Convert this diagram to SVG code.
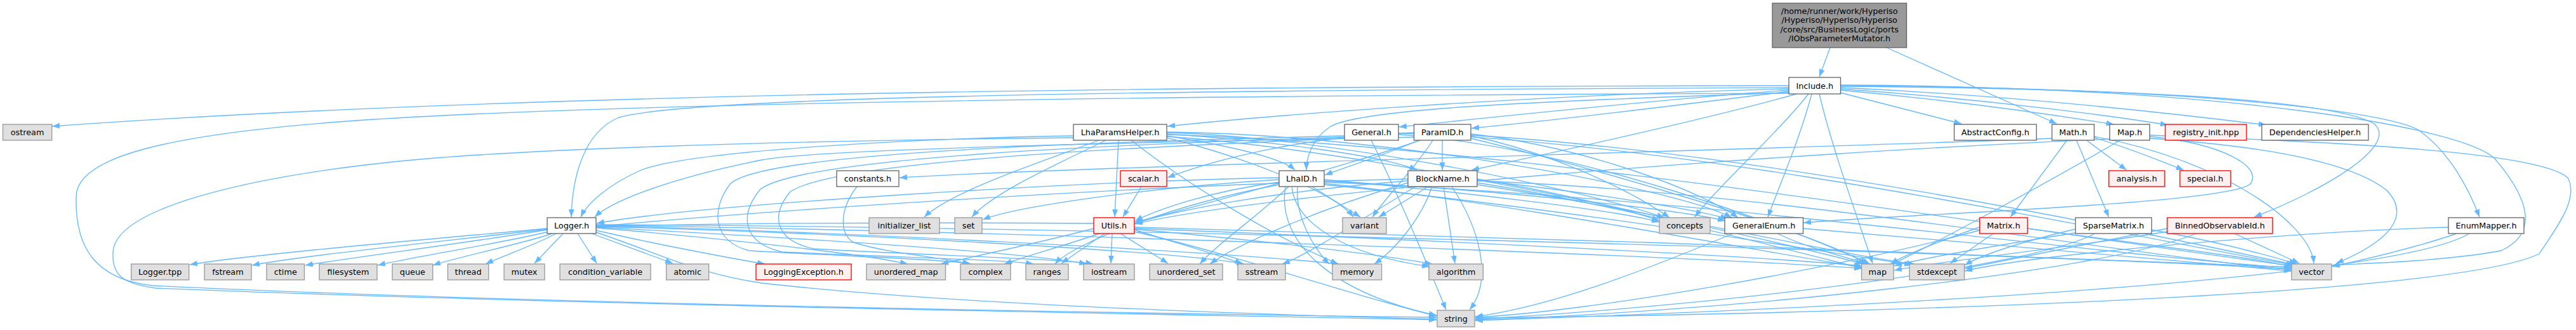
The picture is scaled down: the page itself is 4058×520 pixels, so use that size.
<svg xmlns="http://www.w3.org/2000/svg" width="4058" height="520" viewBox="0 0 4058 520">
<defs>
<marker id="ah" markerUnits="userSpaceOnUse" markerWidth="12" markerHeight="9" viewBox="0 0 12 9" refX="12" refY="4.5" orient="auto"><path d="M0,0 L12,4.5 L0,9 z" fill="#63b8ff"/></marker>
<style>
text{font-family:"DejaVu Sans","Liberation Sans",sans-serif;font-size:12.8px;fill:#000;text-anchor:middle}
.w rect{fill:#fff;stroke:#666;stroke-width:1.33}
.g rect{fill:#e0e0e0;stroke:#999;stroke-width:1.33}
.r rect{fill:#fff0f0;stroke:#f00;stroke-width:1.33}
.root rect{fill:#999;stroke:#666;stroke-width:1.33}
#edges path{fill:none;stroke:#63b8ff;stroke-width:1.33;marker-end:url(#ah)}
</style>
</defs>
<rect width="4058" height="520" fill="#fff"/>
<g id="edges">
<path d="M2883,75 L2866,121"/>
<path d="M2972,75 L3240,195"/>
<path d="M2818,135 C2100,136 900,140 82,199"/>
<path d="M2818,138 C1900,142 1100,150 975,185 C915,210 901,290 900,342"/>
<path d="M2818,140 C2400,150 2000,182 1839,199"/>
<path d="M2818,142 C2600,158 2350,185 2204,200"/>
<path d="M2818,144 C2650,165 2450,190 2318,202"/>
<path d="M2818,146 C2400,160 2140,172 2095,200 C2065,220 2058,250 2058,268"/>
<path d="M2830,148 C2700,185 2450,240 2318,268"/>
<path d="M2849,148 C2800,210 2700,300 2670,342"/>
<path d="M2854,148 C2835,220 2800,300 2785,342"/>
<path d="M2866,148 C2885,230 2925,340 2950,415"/>
<path d="M2899,146 L3090,195"/>
<path d="M2899,142 C3100,160 3280,188 3330,196"/>
<path d="M2899,140 C3150,158 3350,186 3415,197"/>
<path d="M2899,138 C3200,152 3450,182 3570,197"/>
<path d="M2899,136 C3400,140 3680,160 3740,195 C3780,230 3660,300 3551,342"/>
<path d="M2899,135 C3450,138 3760,175 3810,205 C3860,240 3890,300 3906,342"/>
<path d="M2899,134 C3500,136 3880,200 3930,250 C3990,320 3995,370 3940,395 C3850,412 3720,415 3674,418"/>
<path d="M2818,147 C2000,150 1000,160 560,190 C250,212 120,250 120,310 C118,390 150,440 240,450 C800,478 1800,494 2263,500"/>
<path d="M862,360 C700,375 400,400 299,417"/>
<path d="M862,361 C720,378 480,402 397,418"/>
<path d="M862,362 C740,382 560,405 481,418"/>
<path d="M865,365 C780,385 650,405 595,418"/>
<path d="M870,368 C820,385 720,405 682,418"/>
<path d="M876,368 C845,385 795,402 765,416"/>
<path d="M887,368 L842,415"/>
<path d="M910,368 L940,415"/>
<path d="M932,368 L1060,415"/>
<path d="M939,363 C1020,382 1140,405 1205,416"/>
<path d="M939,359 C1100,372 1350,398 1430,416"/>
<path d="M939,358 C1200,372 1600,395 1712,416"/>
<path d="M939,357 C1300,366 1850,395 1960,416"/>
<path d="M939,356 C1300,364 1900,395 2110,416"/>
<path d="M939,355 C1500,362 2600,400 2933,423"/>
<path d="M939,354 C1800,358 3200,400 3610,424"/>
<path d="M939,366 C1040,400 1100,432 1200,446 C1500,480 2000,496 2263,503"/>
<path d="M1691,214 C1400,219 1080,240 1010,268 C960,290 925,320 915,342"/>
<path d="M1691,217 C1200,222 800,236 620,255 C380,280 180,330 178,398 C176,435 195,447 245,454 C900,481 1900,496 2263,504"/>
<path d="M1731,221 C1650,252 1500,300 1456,342"/>
<path d="M1742,221 C1680,252 1565,302 1531,342"/>
<path d="M1762,221 L1756,342"/>
<path d="M1782,221 C1870,290 2000,370 2108,416"/>
<path d="M1838,214 C1950,232 2020,250 2040,268"/>
<path d="M1838,211 C2000,222 2180,245 2232,268"/>
<path d="M1838,217 C1950,245 2100,300 2132,342"/>
<path d="M1838,209 C2100,216 2500,300 2622,343"/>
<path d="M1838,208 C2200,212 2650,300 2728,343"/>
<path d="M1838,215 C2200,240 2800,380 2936,416"/>
<path d="M1838,212 C2400,230 3300,380 3612,419"/>
<path d="M2227,216 C2000,221 1300,232 1200,252 C1050,282 962,318 937,342"/>
<path d="M2237,221 C2150,252 1900,322 1788,350"/>
<path d="M2257,221 C2232,262 2182,312 2162,342"/>
<path d="M2272,221 L2272,268"/>
<path d="M2235,221 C2180,245 2120,263 2087,276"/>
<path d="M2317,214 C2450,242 2572,302 2630,343"/>
<path d="M2317,211 C2500,232 2682,302 2738,343"/>
<path d="M2317,218 C2500,262 2850,362 2942,416"/>
<path d="M2317,213 C2800,242 3400,372 3614,417"/>
<path d="M2227,209 C2050,214 1900,256 1839,280"/>
<path d="M2118,214 C1700,225 1200,240 1150,290 C1120,330 1122,380 1180,395 C1350,405 1480,408 1530,416"/>
<path d="M2118,216 C1750,228 1265,248 1198,298 C1165,338 1168,382 1232,397 C1400,405 1580,409 1628,416"/>
<path d="M2118,218 C1800,232 1320,252 1245,302 C1215,338 1218,378 1282,392 C1450,402 1680,408 1722,416"/>
<path d="M2203,212 C2500,232 2850,372 2946,416"/>
<path d="M2203,210 C2700,226 3400,382 3615,418"/>
<path d="M2160,221 C2200,300 2250,420 2278,488"/>
<path d="M2015,280 C1700,286 1100,322 940,352"/>
<path d="M2015,283 C1800,296 1600,326 1548,346"/>
<path d="M2015,287 C1900,302 1820,332 1788,348"/>
<path d="M2067,294 L2143,342"/>
<path d="M2044,294 C2040,342 2070,392 2094,416"/>
<path d="M2035,294 C2040,352 2120,402 2252,420"/>
<path d="M2025,294 C2010,382 2100,462 2263,497"/>
<path d="M2030,294 C1980,342 1920,382 1890,416"/>
<path d="M2015,291 C1850,322 1692,382 1662,416"/>
<path d="M2086,283 C2300,302 2552,332 2614,350"/>
<path d="M2086,285 C2400,302 2652,332 2718,348"/>
<path d="M2086,289 C2400,322 2800,402 2933,421"/>
<path d="M2086,287 C2700,312 3300,402 3610,422"/>
<path d="M2086,291 C2500,332 2900,402 3012,417"/>
<path d="M2218,282 C1800,292 1200,332 940,357"/>
<path d="M2218,285 C2000,302 1850,332 1788,352"/>
<path d="M2250,294 L2172,342"/>
<path d="M2256,294 C2240,342 2200,392 2165,416"/>
<path d="M2274,294 L2292,415"/>
<path d="M2287,294 C2332,362 2352,442 2315,488"/>
<path d="M2327,282 C2450,302 2572,332 2614,348"/>
<path d="M2327,284 C2500,302 2682,332 2722,345"/>
<path d="M2327,288 C2550,322 2850,402 2934,423"/>
<path d="M2327,285 C2800,302 3350,402 3610,425"/>
<path d="M2327,291 C2600,332 2900,402 3016,416"/>
<path d="M2218,288 C2100,322 1952,382 1906,416"/>
<path d="M2230,294 C2150,342 2060,402 2020,416"/>
<path d="M1723,352 C1400,350 1100,352 940,357"/>
<path d="M1723,360 C1640,382 1530,405 1482,416"/>
<path d="M1732,368 C1680,386 1612,405 1582,416"/>
<path d="M1740,368 L1672,415"/>
<path d="M1752,368 L1750,415"/>
<path d="M1765,368 L1840,415"/>
<path d="M1787,362 C1850,382 1932,405 1957,416"/>
<path d="M1787,365 C1950,402 2150,472 2264,498"/>
<path d="M1787,358 C2300,370 3200,402 3610,421"/>
<path d="M1787,360 C2200,376 2750,402 2933,419"/>
<path d="M1787,361 C1950,376 2150,397 2256,416"/>
<path d="M1798,294 L1769,342"/>
<path d="M1350,294 C1322,330 1322,370 1345,382 C1400,400 1490,406 1528,416"/>
<path d="M3287,221 L3350,268"/>
<path d="M3256,221 L3167,342"/>
<path d="M3271,221 L3322,342"/>
<path d="M3299,217 C3350,232 3400,252 3440,268"/>
<path d="M3232,218 C2800,236 1700,262 1417,280"/>
<path d="M3299,215 C3500,252 3640,352 3645,415"/>
<path d="M3323,219 C2800,242 2000,302 1788,353"/>
<path d="M3386,215 C3500,226 3565,262 3545,290 C3505,322 3000,337 2841,351"/>
<path d="M3386,218 C3550,229 3700,252 3760,300 C3800,342 3760,382 3680,415"/>
<path d="M3340,221 C3200,302 3050,382 2980,417"/>
<path d="M3386,213 C3700,224 4000,240 4045,280 C4062,312 4032,352 4000,400 C3850,472 2800,496 2324,501"/>
<path d="M3140,368 L3072,415"/>
<path d="M3118,358 C3050,382 3000,402 2978,416"/>
<path d="M3194,360 C3350,382 3552,405 3612,421"/>
<path d="M3118,363 C2900,422 2500,492 2324,500"/>
<path d="M3269,361 C3182,382 3120,402 3095,418"/>
<path d="M3275,366 C3150,386 3030,406 2984,419"/>
<path d="M3389,362 C3500,382 3582,405 3618,416"/>
<path d="M3300,368 C3200,422 2700,482 2324,503"/>
<path d="M3520,368 L3622,415"/>
<path d="M3414,365 C3250,392 3050,412 2984,426"/>
<path d="M3460,368 C3300,432 2700,492 2324,504"/>
<path d="M3414,360 C3300,382 3150,412 3095,423"/>
<path d="M3870,368 C3800,392 3720,410 3674,420"/>
<path d="M3890,368 C3800,422 3300,472 2324,505"/>
<path d="M3857,358 C3600,366 3200,402 3095,427"/>
<path d="M2730,368 C2600,422 2450,482 2324,499"/>
<path d="M2800,368 C2850,392 2910,405 2940,416"/>
<path d="M2840,360 C3100,382 3450,412 3610,427"/>
</g>
<g id="root" class="root"><rect x="2792" y="5" width="211.5" height="70"/><text x="2897.7" y="21.5">/home/runner/work/Hyperiso</text><text x="2897.7" y="36">/Hyperiso/Hyperiso/Hyperiso</text><text x="2897.7" y="50.5">/core/src/BusinessLogic/ports</text><text x="2897.7" y="65">/IObsParameterMutator.h</text></g>
<g id="include" class="w"><rect x="2818" y="122" width="81.5" height="26"/><text x="2858.8" y="139.5">Include.h</text></g>
<g id="ostream" class="g"><rect x="4.5" y="196" width="77.2" height="25"/><text x="43.1" y="213">ostream</text></g>
<g id="lhaparamshelper" class="w"><rect x="1691" y="196" width="147" height="25"/><text x="1764.5" y="213">LhaParamsHelper.h</text></g>
<g id="general" class="w"><rect x="2118" y="196" width="85" height="25"/><text x="2160.5" y="213">General.h</text></g>
<g id="paramid" class="w"><rect x="2227.5" y="196" width="89.5" height="25"/><text x="2272.3" y="213">ParamID.h</text></g>
<g id="abstractconfig" class="w"><rect x="3078.5" y="196" width="129.5" height="25"/><text x="3143.3" y="213">AbstractConfig.h</text></g>
<g id="math" class="w"><rect x="3232.5" y="196" width="66.5" height="25"/><text x="3265.8" y="213">Math.h</text></g>
<g id="maph" class="w"><rect x="3323.5" y="196" width="63" height="25"/><text x="3355" y="213">Map.h</text></g>
<g id="registry" class="r"><rect x="3411" y="196" width="128" height="25"/><text x="3475" y="213">registry_init.hpp</text></g>
<g id="dephelper" class="w"><rect x="3563" y="196" width="168" height="25"/><text x="3647" y="213">DependenciesHelper.h</text></g>
<g id="constants" class="w"><rect x="1318" y="269" width="98" height="25"/><text x="1367" y="286">constants.h</text></g>
<g id="scalar" class="r"><rect x="1765" y="269" width="73" height="25"/><text x="1801.5" y="286">scalar.h</text></g>
<g id="lhaid" class="w"><rect x="2015" y="269" width="71" height="25"/><text x="2050.5" y="286">LhaID.h</text></g>
<g id="blockname" class="w"><rect x="2218" y="269" width="109" height="25"/><text x="2272.5" y="286">BlockName.h</text></g>
<g id="analysis" class="r"><rect x="3322" y="269" width="88" height="25"/><text x="3366" y="286">analysis.h</text></g>
<g id="special" class="r"><rect x="3434" y="269" width="80" height="25"/><text x="3474" y="286">special.h</text></g>
<g id="logger" class="w"><rect x="862" y="343" width="77" height="25"/><text x="900.5" y="360">Logger.h</text></g>
<g id="initlist" class="g"><rect x="1369" y="343" width="111" height="25"/><text x="1424.5" y="360">initializer_list</text></g>
<g id="set" class="g"><rect x="1504" y="343" width="43" height="25"/><text x="1525.5" y="360">set</text></g>
<g id="utils" class="r"><rect x="1723" y="343" width="64" height="25"/><text x="1755" y="360">Utils.h</text></g>
<g id="variant" class="g"><rect x="2115" y="343" width="69" height="25"/><text x="2149.5" y="360">variant</text></g>
<g id="concepts" class="g"><rect x="2614" y="343" width="80" height="25"/><text x="2654" y="360">concepts</text></g>
<g id="generalenum" class="w"><rect x="2717" y="343" width="123.5" height="25"/><text x="2778.8" y="360">GeneralEnum.h</text></g>
<g id="matrix" class="r"><rect x="3118.6" y="343" width="75.4" height="25"/><text x="3156.3" y="360">Matrix.h</text></g>
<g id="sparsematrix" class="w"><rect x="3269.5" y="343" width="120" height="25"/><text x="3329.5" y="360">SparseMatrix.h</text></g>
<g id="binned" class="r"><rect x="3414" y="343" width="166" height="25"/><text x="3497" y="360">BinnedObservableId.h</text></g>
<g id="enummapper" class="w"><rect x="3857" y="343" width="119" height="25"/><text x="3916.5" y="360">EnumMapper.h</text></g>
<g id="loggertpp" class="g"><rect x="206.7" y="416" width="91" height="25"/><text x="252.2" y="433">Logger.tpp</text></g>
<g id="fstream" class="g"><rect x="322" y="416" width="74" height="25"/><text x="359" y="433">fstream</text></g>
<g id="ctime" class="g"><rect x="420" y="416" width="59.5" height="25"/><text x="449.8" y="433">ctime</text></g>
<g id="filesystem" class="g"><rect x="503" y="416" width="91" height="25"/><text x="548.5" y="433">filesystem</text></g>
<g id="queue" class="g"><rect x="618" y="416" width="63.7" height="25"/><text x="649.9" y="433">queue</text></g>
<g id="thread" class="g"><rect x="705.4" y="416" width="64.3" height="25"/><text x="737.6" y="433">thread</text></g>
<g id="mutex" class="g"><rect x="794" y="416" width="64" height="25"/><text x="826" y="433">mutex</text></g>
<g id="condvar" class="g"><rect x="882" y="416" width="143" height="25"/><text x="953.5" y="433">condition_variable</text></g>
<g id="atomic" class="g"><rect x="1049.6" y="416" width="67" height="25"/><text x="1083.1" y="433">atomic</text></g>
<g id="loggingexception" class="r"><rect x="1191" y="416" width="150" height="25"/><text x="1266" y="433">LoggingException.h</text></g>
<g id="unordered_map" class="g"><rect x="1365" y="416" width="124.5" height="25"/><text x="1427.3" y="433">unordered_map</text></g>
<g id="complex" class="g"><rect x="1513" y="416" width="79" height="25"/><text x="1552.5" y="433">complex</text></g>
<g id="ranges" class="g"><rect x="1616" y="416" width="67" height="25"/><text x="1649.5" y="433">ranges</text></g>
<g id="iostream" class="g"><rect x="1707" y="416" width="80" height="25"/><text x="1747" y="433">iostream</text></g>
<g id="unordered_set" class="g"><rect x="1811" y="416" width="115" height="25"/><text x="1868.5" y="433">unordered_set</text></g>
<g id="sstream" class="g"><rect x="1950" y="416" width="75" height="25"/><text x="1987.5" y="433">sstream</text></g>
<g id="memory" class="g"><rect x="2099" y="416" width="77.6" height="25"/><text x="2137.8" y="433">memory</text></g>
<g id="algorithm" class="g"><rect x="2251" y="416" width="85.4" height="25"/><text x="2293.7" y="433">algorithm</text></g>
<g id="map" class="g"><rect x="2932.5" y="416" width="50.5" height="25"/><text x="2957.8" y="433">map</text></g>
<g id="stdexcept" class="g"><rect x="3008" y="416" width="86.5" height="25"/><text x="3051.3" y="433">stdexcept</text></g>
<g id="vector" class="g"><rect x="3610" y="416" width="63" height="25"/><text x="3641.5" y="433">vector</text></g>
<g id="string" class="g"><rect x="2264" y="489" width="59" height="26"/><text x="2293.5" y="506.5">string</text></g>
</svg>
